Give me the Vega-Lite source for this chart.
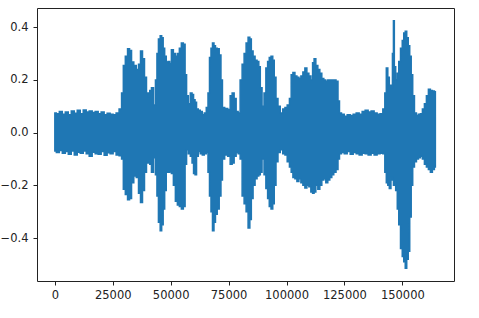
{
  "$schema": "https://vega.github.io/schema/vega-lite/v6.json",
  "width": 417,
  "height": 273,
  "autosize": {"type": "none"},
  "padding": {"left": 37, "top": 8, "right": 25, "bottom": 37},
  "background": "white",
  "config": {
    "view": {"stroke": "#222", "strokeWidth": 1},
    "axis": {
      "domain": false, "grid": false, "tickColor": "#222", "tickSize": 4, "tickWidth": 1,
      "labelFont": "DejaVu Sans", "labelFontSize": 11.5, "labelColor": "#222", "title": null
    }
  },
  "data": {"values": [
    {"t":0,"hi":0.075,"lo":-0.070},{"t":1290,"hi":0.072,"lo":-0.075},{"t":2580,"hi":0.080,"lo":-0.068},{"t":3870,"hi":0.070,"lo":-0.078},
    {"t":5160,"hi":0.078,"lo":-0.072},{"t":6450,"hi":0.068,"lo":-0.082},{"t":7740,"hi":0.082,"lo":-0.070},{"t":9030,"hi":0.074,"lo":-0.085},
    {"t":10320,"hi":0.085,"lo":-0.074},{"t":11610,"hi":0.072,"lo":-0.078},{"t":12900,"hi":0.086,"lo":-0.070},{"t":14190,"hi":0.078,"lo":-0.080},
    {"t":15480,"hi":0.082,"lo":-0.090},{"t":16770,"hi":0.076,"lo":-0.074},{"t":18060,"hi":0.080,"lo":-0.080},{"t":19350,"hi":0.072,"lo":-0.082},
    {"t":20640,"hi":0.078,"lo":-0.072},{"t":21930,"hi":0.068,"lo":-0.086},{"t":23220,"hi":0.074,"lo":-0.076},{"t":24510,"hi":0.070,"lo":-0.080},
    {"t":25800,"hi":0.068,"lo":-0.072},{"t":27090,"hi":0.075,"lo":-0.085},{"t":28380,"hi":0.090,"lo":-0.088},{"t":29240,"hi":0.150,"lo":-0.100},
    {"t":29885,"hi":0.255,"lo":-0.215},{"t":30960,"hi":0.290,"lo":-0.235},{"t":31820,"hi":0.318,"lo":-0.255},{"t":32680,"hi":0.312,"lo":-0.250},
    {"t":33540,"hi":0.268,"lo":-0.190},{"t":34615,"hi":0.255,"lo":-0.165},{"t":35690,"hi":0.240,"lo":-0.170},{"t":36550,"hi":0.260,"lo":-0.230},
    {"t":37410,"hi":0.310,"lo":-0.265},{"t":38270,"hi":0.280,"lo":-0.220},{"t":39130,"hi":0.210,"lo":-0.150},{"t":39990,"hi":0.150,"lo":-0.115},
    {"t":40635,"hi":0.135,"lo":-0.110},{"t":41280,"hi":0.160,"lo":-0.120},{"t":42140,"hi":0.170,"lo":-0.150},{"t":43000,"hi":0.105,"lo":-0.095},
    {"t":43860,"hi":0.200,"lo":-0.160},{"t":44290,"hi":0.300,"lo":-0.240},{"t":45150,"hi":0.355,"lo":-0.340},{"t":45795,"hi":0.368,"lo":-0.372},
    {"t":46440,"hi":0.360,"lo":-0.350},{"t":47085,"hi":0.320,"lo":-0.290},{"t":47730,"hi":0.290,"lo":-0.220},{"t":48460,"hi":0.268,"lo":-0.150},
    {"t":49235,"hi":0.270,"lo":-0.150},{"t":49880,"hi":0.262,"lo":-0.148},{"t":50740,"hi":0.315,"lo":-0.155},{"t":51600,"hi":0.300,"lo":-0.200},
    {"t":52460,"hi":0.290,"lo":-0.260},{"t":53320,"hi":0.300,"lo":-0.275},{"t":54180,"hi":0.320,"lo":-0.280},{"t":55040,"hi":0.340,"lo":-0.290},
    {"t":55900,"hi":0.335,"lo":-0.280},{"t":56545,"hi":0.220,"lo":-0.120},{"t":57190,"hi":0.140,"lo":-0.065},{"t":58050,"hi":0.110,"lo":-0.080},
    {"t":58910,"hi":0.150,"lo":-0.090},{"t":59555,"hi":0.145,"lo":-0.115},{"t":60200,"hi":0.125,"lo":-0.155},{"t":60845,"hi":0.115,"lo":-0.160},
    {"t":61490,"hi":0.090,"lo":-0.090},{"t":62350,"hi":0.085,"lo":-0.072},{"t":63210,"hi":0.080,"lo":-0.080},{"t":64070,"hi":0.068,"lo":-0.085},
    {"t":64930,"hi":0.075,"lo":-0.080},{"t":65790,"hi":0.095,"lo":-0.075},{"t":66435,"hi":0.150,"lo":-0.150},{"t":67080,"hi":0.285,"lo":-0.240},
    {"t":67725,"hi":0.320,"lo":-0.300},{"t":68370,"hi":0.340,"lo":-0.372},{"t":69015,"hi":0.330,"lo":-0.340},{"t":69660,"hi":0.320,"lo":-0.310},
    {"t":70520,"hi":0.318,"lo":-0.290},{"t":71380,"hi":0.295,"lo":-0.240},{"t":72025,"hi":0.200,"lo":-0.180},{"t":72670,"hi":0.095,"lo":-0.100},
    {"t":73960,"hi":0.092,"lo":-0.085},{"t":75250,"hi":0.088,"lo":-0.090},{"t":76110,"hi":0.140,"lo":-0.120},{"t":76970,"hi":0.150,"lo":-0.115},
    {"t":77830,"hi":0.130,"lo":-0.090},{"t":78690,"hi":0.080,"lo":-0.075},{"t":79550,"hi":0.075,"lo":-0.080},{"t":80410,"hi":0.200,"lo":-0.100},
    {"t":81270,"hi":0.260,"lo":-0.240},{"t":82130,"hi":0.300,"lo":-0.270},{"t":82990,"hi":0.340,"lo":-0.300},{"t":83850,"hi":0.362,"lo":-0.362},
    {"t":84495,"hi":0.355,"lo":-0.330},{"t":85140,"hi":0.310,"lo":-0.250},{"t":86000,"hi":0.290,"lo":-0.200},{"t":86860,"hi":0.275,"lo":-0.175},
    {"t":87720,"hi":0.270,"lo":-0.165},{"t":88365,"hi":0.250,"lo":-0.160},{"t":89010,"hi":0.170,"lo":-0.150},{"t":89870,"hi":0.100,"lo":-0.100},
    {"t":90730,"hi":0.150,"lo":-0.160},{"t":91461,"hi":0.245,"lo":-0.212},{"t":92235,"hi":0.270,"lo":-0.250},{"t":92880,"hi":0.285,"lo":-0.280},
    {"t":93740,"hi":0.290,"lo":-0.290},{"t":94385,"hi":0.275,"lo":-0.270},{"t":95030,"hi":0.210,"lo":-0.200},{"t":95890,"hi":0.130,"lo":-0.110},
    {"t":96750,"hi":0.100,"lo":-0.075},{"t":97825,"hi":0.075,"lo":-0.065},{"t":98900,"hi":0.090,"lo":-0.080},{"t":99760,"hi":0.095,"lo":-0.085},
    {"t":100835,"hi":0.105,"lo":-0.110},{"t":101695,"hi":0.130,"lo":-0.130},{"t":102340,"hi":0.220,"lo":-0.150},{"t":103200,"hi":0.228,"lo":-0.170},
    {"t":104060,"hi":0.215,"lo":-0.175},{"t":104920,"hi":0.210,"lo":-0.185},{"t":105780,"hi":0.205,"lo":-0.175},{"t":106640,"hi":0.215,"lo":-0.190},
    {"t":107500,"hi":0.230,"lo":-0.200},{"t":108360,"hi":0.245,"lo":-0.210},{"t":109220,"hi":0.225,"lo":-0.200},{"t":110080,"hi":0.215,"lo":-0.205},
    {"t":110940,"hi":0.200,"lo":-0.225},{"t":111585,"hi":0.265,"lo":-0.230},{"t":112230,"hi":0.280,"lo":-0.225},{"t":113090,"hi":0.255,"lo":-0.200},
    {"t":113950,"hi":0.240,"lo":-0.215},{"t":114810,"hi":0.225,"lo":-0.200},{"t":115670,"hi":0.205,"lo":-0.180},{"t":116530,"hi":0.200,"lo":-0.175},
    {"t":117390,"hi":0.195,"lo":-0.190},{"t":118250,"hi":0.200,"lo":-0.180},{"t":119110,"hi":0.200,"lo":-0.170},{"t":119970,"hi":0.200,"lo":-0.160},
    {"t":120830,"hi":0.200,"lo":-0.150},{"t":121905,"hi":0.195,"lo":-0.140},{"t":122550,"hi":0.120,"lo":-0.100},{"t":123195,"hi":0.075,"lo":-0.080},
    {"t":124270,"hi":0.070,"lo":-0.075},{"t":125560,"hi":0.062,"lo":-0.080},{"t":126850,"hi":0.068,"lo":-0.072},{"t":128140,"hi":0.065,"lo":-0.082},
    {"t":129430,"hi":0.070,"lo":-0.075},{"t":130720,"hi":0.075,"lo":-0.080},{"t":132010,"hi":0.070,"lo":-0.085},{"t":133300,"hi":0.080,"lo":-0.078},
    {"t":134590,"hi":0.085,"lo":-0.080},{"t":135880,"hi":0.078,"lo":-0.085},{"t":137170,"hi":0.082,"lo":-0.078},{"t":138460,"hi":0.075,"lo":-0.085},
    {"t":139750,"hi":0.070,"lo":-0.080},{"t":141040,"hi":0.072,"lo":-0.078},{"t":142115,"hi":0.090,"lo":-0.080},{"t":142760,"hi":0.150,"lo":-0.150},
    {"t":143405,"hi":0.245,"lo":-0.190},{"t":144050,"hi":0.210,"lo":-0.200},{"t":144695,"hi":0.180,"lo":-0.212},{"t":145469,"hi":0.170,"lo":-0.170},
    {"t":145985,"hi":0.300,"lo":-0.180},{"t":146329,"hi":0.425,"lo":-0.200},{"t":146759,"hi":0.250,"lo":-0.190},{"t":147490,"hi":0.200,"lo":-0.220},
    {"t":148135,"hi":0.225,"lo":-0.290},{"t":148780,"hi":0.270,"lo":-0.350},{"t":149640,"hi":0.320,"lo":-0.440},{"t":150285,"hi":0.350,"lo":-0.470},
    {"t":150930,"hi":0.378,"lo":-0.490},{"t":151575,"hi":0.385,"lo":-0.515},{"t":152220,"hi":0.360,"lo":-0.480},{"t":152865,"hi":0.330,"lo":-0.450},
    {"t":153510,"hi":0.290,"lo":-0.320},{"t":154155,"hi":0.220,"lo":-0.200},{"t":154800,"hi":0.140,"lo":-0.130},{"t":155660,"hi":0.075,"lo":-0.110},
    {"t":156520,"hi":0.065,"lo":-0.100},{"t":157380,"hi":0.070,"lo":-0.095},{"t":158240,"hi":0.072,"lo":-0.090},{"t":159100,"hi":0.090,"lo":-0.100},
    {"t":159960,"hi":0.110,"lo":-0.120},{"t":160820,"hi":0.140,"lo":-0.130},{"t":161680,"hi":0.165,"lo":-0.140},{"t":162540,"hi":0.160,"lo":-0.150},
    {"t":163400,"hi":0.158,"lo":-0.140},{"t":164260,"hi":0.155,"lo":-0.130}
  ]},
  "mark": {"type": "area", "color": "#1f77b4", "stroke": "#1f77b4", "strokeWidth": 1.5, "opacity": 1, "interpolate": "step"},
  "encoding": {
    "x": {"field": "t", "type": "quantitative",
      "scale": {"domain": [-7700, 172300], "nice": false, "zero": false},
      "axis": {"values": [0, 25000, 50000, 75000, 100000, 125000, 150000], "format": "d", "labelPadding": 4, "labelFlush": false}},
    "y": {"field": "hi", "type": "quantitative",
      "scale": {"domain": [-0.563, 0.473], "nice": false, "zero": false},
      "axis": {"values": [-0.4, -0.2, 0, 0.2, 0.4], "format": ".1f", "labelPadding": 5, "labelFlush": false}},
    "y2": {"field": "lo"}
  }
}
